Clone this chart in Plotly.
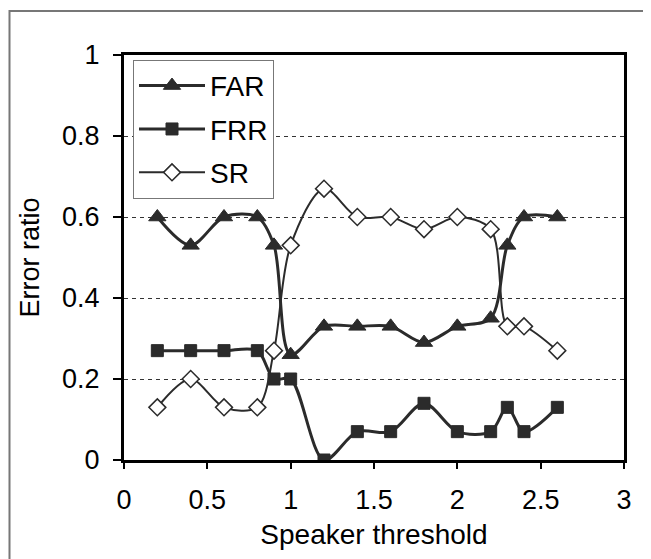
import plotly.graph_objects as go

# Data
thresholds = [0.2, 0.4, 0.6, 0.8, 0.9, 1.0, 1.2, 1.4, 1.6, 1.8, 2.0, 2.2, 2.3, 2.4, 2.6]
far = [0.60, 0.53, 0.60, 0.60, 0.53, 0.26, 0.33, 0.33, 0.33, 0.29, 0.33, 0.35, 0.53, 0.60, 0.60]
frr = [0.27, 0.27, 0.27, 0.27, 0.20, 0.20, 0.00, 0.07, 0.07, 0.14, 0.07, 0.07, 0.13, 0.07, 0.13]
sr = [0.13, 0.20, 0.13, 0.13, 0.27, 0.53, 0.67, 0.60, 0.60, 0.57, 0.60, 0.57, 0.33, 0.33, 0.27]

x_ticks = [0, 0.5, 1, 1.5, 2, 2.5, 3]
y_ticks = [0, 0.2, 0.4, 0.6, 0.8, 1]

FONT = "Liberation Sans, Arial, sans-serif"
DARK = "#2b2b2b"

fig = go.Figure()
fig.add_trace(go.Scatter(
    x=thresholds, y=far, name="FAR", mode="lines+markers", legendgroup="a",
    line=dict(color=DARK, width=3, shape="spline", smoothing=0.9),
    marker=dict(symbol="triangle-up", size=15, color=DARK, line=dict(color=DARK, width=1)),
))
fig.add_trace(go.Scatter(
    x=thresholds, y=frr, name="FRR", mode="lines+markers", legendgroup="b",
    line=dict(color=DARK, width=3, shape="spline", smoothing=0.9),
    marker=dict(symbol="square", size=12, color=DARK, line=dict(color=DARK, width=1)),
))
fig.add_trace(go.Scatter(
    x=thresholds, y=sr, name="SR", mode="lines+markers", legendgroup="c",
    line=dict(color=DARK, width=2, shape="spline", smoothing=0.9),
    marker=dict(symbol="diamond", size=13, color="white", line=dict(color=DARK, width=1.5)),
))

fig.update_layout(
    width=643, height=551,
    margin=dict(l=116, r=27, t=47, b=99),
    paper_bgcolor="white", plot_bgcolor="white",
    font=dict(family=FONT, size=27, color="black"),
    showlegend=True,
    legend=dict(
        x=0.018, y=0.988, xanchor="left", yanchor="top",
        bgcolor="white", bordercolor="#777", borderwidth=1,
        font=dict(family=FONT, size=28, color="black"),
        tracegroupgap=4, itemwidth=66,
    ),
    xaxis=dict(
        range=[0, 3], tickvals=x_ticks, ticks="outside", ticklen=6, tickwidth=1.5,
        tickcolor="black", showline=True, linecolor="black", linewidth=3, mirror=True,
        showgrid=False, zeroline=False, ticklabelstandoff=8,
        title=dict(text="Speaker threshold", font=dict(size=28), standoff=10),
    ),
    yaxis=dict(
        range=[0, 1], tickvals=y_ticks, ticks="outside", ticklen=8, tickwidth=1.5,
        tickcolor="black", showline=True, linecolor="black", linewidth=3, mirror=True,
        showgrid=True, gridcolor="#333", gridwidth=1, griddash="4px,4px", zeroline=False,
        ticklabelstandoff=8,
        title=dict(text="Error ratio", font=dict(size=27), standoff=15),
    ),
    shapes=[dict(
        type="rect", xref="paper", yref="paper",
        x0=-0.229, x1=1.2, y0=-0.4, y1=1.1086,
        line=dict(color="#777", width=2), fillcolor="rgba(0,0,0,0)", layer="below",
    )],
)

fig.write_html("out.html")
